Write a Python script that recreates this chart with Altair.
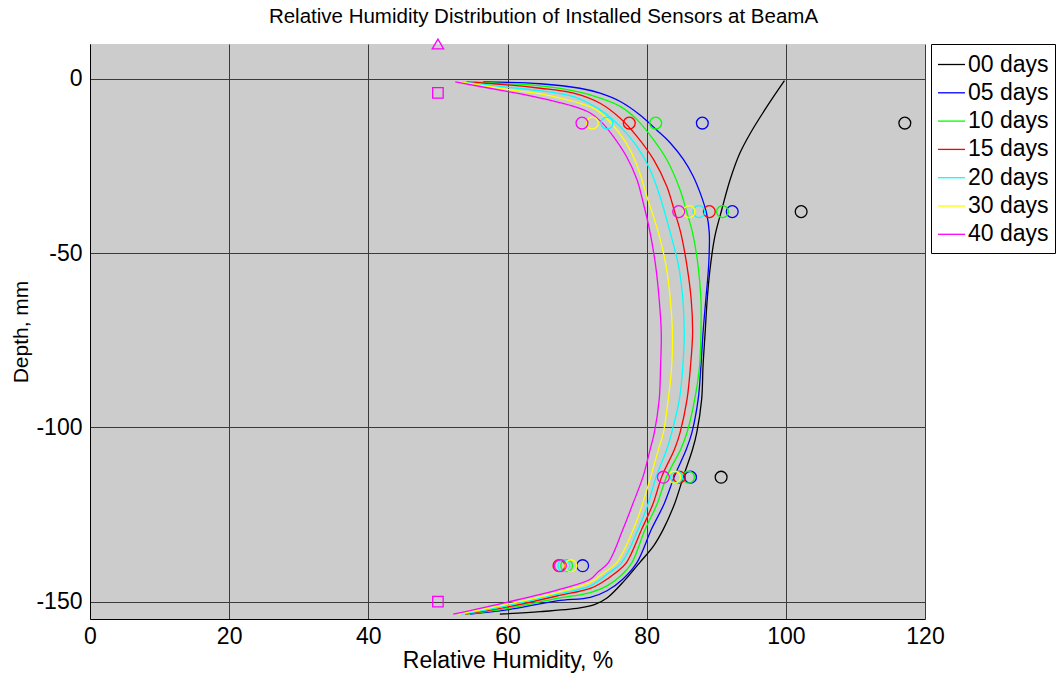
import altair as alt
import pandas as pd

# ---------------- data ----------------
series = ["00 days", "05 days", "10 days", "15 days", "20 days", "30 days", "40 days"]
colors = ["#000000", "#0000ff", "#00ff00", "#ff0000", "#00ffff", "#ffff00", "#ff00ff"]

rh_00 = [99.8, 97.3, 94.9, 93.4, 92.0, 90.8, 89.8, 89.1, 88.7, 88.4, 88.1, 87.9, 87.2, 86.6, 85.3, 84.0,
         82.4, 81.0, 79.0, 76.8, 74.3, 72.5, 70.4, 64.7, 58.9]
depth_00 = [-0.5, -7.9, -15.6, -21.3, -28.9, -37.5, -45.2, -54.7, -63.3, -72.9, -82.4, -92.0, -101.5, -106.3,
            -114.0, -122.0, -129.2, -134.0, -138.8, -144.0, -149.0, -150.9, -151.8, -152.9, -153.6]

rh_05 = [56.5, 64.7, 70.4, 73.3, 76.2, 79.0, 81.4, 83.4, 85.3, 86.7, 87.7, 88.6, 89.0, 88.9, 88.5, 88.1, 87.8,
         87.4, 86.5, 85.7, 84.0, 82.5, 80.7, 78.6, 76.6, 74.3, 71.9, 67.1, 59.9, 54.6]
depth_05 = [-0.9, -1.4, -2.7, -4.1, -6.5, -10.3, -14.6, -18.4, -23.2, -28.0, -32.8, -38.5, -44.2, -53.8, -63.3,
            -72.9, -82.4, -92.0, -101.5, -106.3, -114.0, -122.0, -129.2, -138.8, -143.5, -146.9, -148.8, -149.8,
            -152.4, -153.6]

rh_10 = [55.1, 59.9, 64.7, 70.4, 73.3, 76.2, 78.6, 81.0, 82.9, 84.8, 85.8, 86.6, 87.4, 87.8, 87.8, 87.6, 86.9,
         85.8, 84.9, 82.9, 81.5, 79.8, 77.9, 76.6, 74.3, 71.9, 67.1, 59.9, 54.1]
depth_10 = [-0.9, -1.4, -2.0, -3.8, -5.5, -7.9, -11.7, -17.5, -23.2, -31.8, -38.5, -44.2, -53.8, -63.3, -72.9,
            -82.4, -92.0, -101.5, -106.3, -114.0, -122.0, -129.2, -138.8, -142.0, -145.5, -147.4, -149.1, -152.0,
            -153.6]

rh_15 = [54.1, 59.9, 64.7, 69.5, 73.3, 76.2, 78.6, 81.0, 82.9, 84.0, 84.9, 85.8, 86.4, 86.6, 86.3, 85.8, 84.8,
         84.0, 82.2, 80.9, 79.3, 77.1, 75.5, 73.5, 71.9, 67.1, 59.9, 53.9]
depth_15 = [-0.9, -1.7, -2.7, -4.1, -7.0, -11.3, -16.5, -23.2, -30.9, -38.0, -44.2, -53.8, -63.3, -72.9, -82.4,
            -92.0, -101.5, -106.3, -114.0, -122.0, -129.2, -138.8, -141.8, -144.6, -146.2, -148.4, -151.6, -153.6]

rh_20 = [53.4, 59.9, 64.7, 69.5, 73.3, 76.2, 78.6, 80.5, 81.9, 83.4, 84.6, 85.2, 85.4, 85.2, 84.7, 83.6, 82.9,
         81.4, 80.2, 78.8, 76.4, 74.5, 71.9, 67.1, 59.9, 53.4]
depth_20 = [-0.9, -2.4, -3.4, -5.1, -8.9, -13.7, -19.4, -26.1, -33.7, -44.2, -53.8, -63.3, -72.9, -82.4, -92.0,
            -101.5, -106.3, -114.0, -122.0, -129.2, -138.8, -141.9, -145.5, -147.9, -151.2, -153.6]

rh_30 = [53.2, 59.9, 64.7, 69.5, 72.8, 75.7, 77.6, 79.0, 80.1, 81.7, 82.8, 83.4, 83.7, 83.6, 83.1, 82.4, 81.7,
         80.6, 79.4, 78.1, 75.7, 73.8, 71.9, 67.1, 59.9, 52.9]
depth_30 = [-0.9, -3.0, -4.3, -6.5, -8.9, -14.6, -20.3, -27.0, -34.2, -44.2, -53.8, -63.3, -72.9, -82.4, -92.0,
            -101.5, -106.3, -114.0, -122.0, -129.2, -138.8, -141.8, -144.5, -147.4, -150.8, -153.6]

rh_40 = [52.5, 59.9, 64.7, 69.5, 71.9, 73.4, 75.2, 77.1, 78.6, 79.4, 80.5, 81.3, 81.8, 82.1, 82.0, 81.8, 81.1,
         80.5, 79.5, 78.0, 76.6, 74.5, 73.0, 71.9, 67.1, 59.9, 52.2]
depth_40 = [-0.9, -3.6, -5.5, -7.9, -9.8, -12.2, -16.5, -22.3, -28.9, -34.7, -44.2, -53.8, -63.3, -72.9, -82.4,
            -92.0, -101.5, -106.3, -114.0, -122.0, -129.2, -138.8, -141.5, -143.6, -146.7, -150.2, -153.6]

# measured sensor readings (open circles)
sensor_depth = [-12.7, -38.1, -114.3, -139.7]
sensor_00 = [117.1, 102.2, 90.7, None]
sensor_05 = [88.0, 92.3, 86.3, 70.8]
sensor_10 = [81.3, 90.9, 86.0, 68.5]
sensor_15 = [77.5, 89.0, 84.7, 67.4]
sensor_20 = [74.3, 87.5, 84.3, 68.1]
sensor_30 = [72.2, 86.1, 84.0, 69.1]
sensor_40 = [70.7, 84.6, 82.4, 67.6]

# magenta reference markers
square_rh = [50, 50]
square_depth = [-4, -150]
triangle_rh = [50]
triangle_depth = [10]

x_ticks = [0, 20, 40, 60, 80, 100, 120]
y_ticks = [0, -50, -100, -150]

# ---------------- tables ----------------
curve_x = [rh_00, rh_05, rh_10, rh_15, rh_20, rh_30, rh_40]
curve_y = [depth_00, depth_05, depth_10, depth_15, depth_20, depth_30, depth_40]
rows = []
for s, xs, ys in zip(series, curve_x, curve_y):
    for i, (xv, yv) in enumerate(zip(xs, ys)):
        rows.append({"series": s, "rh": xv, "depth": yv, "idx": i})
lines_df = pd.DataFrame(rows)

sensor_lists = [sensor_00, sensor_05, sensor_10, sensor_15, sensor_20, sensor_30, sensor_40]
prow = []
for s, vals in zip(series, sensor_lists):
    for d, v in zip(sensor_depth, vals):
        if v is not None:
            prow.append({"series": s, "rh": v, "depth": d})
pts_df = pd.DataFrame(prow)

sq_df = pd.DataFrame({"rh": square_rh, "depth": square_depth})
tri_df = pd.DataFrame({"rh": triangle_rh, "depth": triangle_depth})

FONT = "Liberation Sans"

xscale = alt.Scale(domain=[0, 120], nice=False, zero=False)
yscale = alt.Scale(domain=[-155, 10], nice=False, zero=False)

x_axis = alt.Axis(values=x_ticks, grid=True, ticks=False, tickSize=0, labelPadding=24,
                  labelBaseline="alphabetic", labelFontSize=23, labelFont=FONT, labelColor="black",
                  labelExpr="toString(datum.value)",
                  title="Relative Humidity, %", titleFontSize=23, titleFont=FONT, titleFontWeight="normal",
                  titleColor="black", titleBaseline="alphabetic", titleY=48, domainColor="black",
                  labelFlush=False, labelOverlap=False)
y_axis = alt.Axis(values=y_ticks, grid=True, ticks=False, tickSize=0, labelPadding=8,
                  labelFontSize=23, labelFont=FONT, labelColor="black",
                  labelExpr="toString(datum.value)",
                  title="Depth, mm", titleFontSize=21, titleFont=FONT, titleFontWeight="normal",
                  titleColor="black", titleAngle=-90, titleX=-63, titleY=287.5, titleAlign="center",
                  titleBaseline="alphabetic", domainColor="black", labelFlush=False, labelOverlap=False)

X = alt.X("rh:Q", scale=xscale, axis=x_axis)
Y = alt.Y("depth:Q", scale=yscale, axis=y_axis)

color_scale = alt.Scale(domain=series, range=colors)

lines = alt.Chart(lines_df).mark_line(strokeWidth=1.3, interpolate="catmull-rom").encode(
    x=X, y=Y,
    color=alt.Color("series:N", scale=color_scale, legend=alt.Legend(
        title=None, orient="none", legendX=841, legendY=0, fillColor="white", strokeColor="black",
        padding=6, cornerRadius=0, symbolType="stroke", symbolSize=729, symbolStrokeWidth=1.3,
        labelFontSize=23, labelFont=FONT, labelColor="black", labelOffset=2, rowPadding=1.3,
        labelLimit=300)),
    order="idx:Q",
)

points = alt.Chart(pts_df).mark_point(shape="circle", filled=False, size=140, strokeWidth=1.3,
                                      opacity=1).encode(
    x=alt.X("rh:Q", scale=xscale), y=alt.Y("depth:Q", scale=yscale),
    color=alt.Color("series:N", scale=color_scale, legend=None),
)

squares = alt.Chart(sq_df).mark_point(shape="square", filled=False, size=110, strokeWidth=1.3,
                                      color="#ff00ff", opacity=1).encode(
    x=alt.X("rh:Q", scale=xscale), y=alt.Y("depth:Q", scale=yscale))

triangles = alt.Chart(tri_df).mark_point(shape="triangle-up", filled=False, size=130, strokeWidth=1.3,
                                         color="#ff00ff", opacity=1, clip=False).encode(
    x=alt.X("rh:Q", scale=xscale), y=alt.Y("depth:Q", scale=yscale))

chart = alt.layer(lines, points, squares, triangles).properties(
    width=835, height=575,
    background="white",
    title=alt.TitleParams("Relative Humidity Distribution of Installed Sensors at BeamA",
                          fontSize=20.5, font=FONT, fontWeight="normal", color="black",
                          anchor="middle", dx=36, dy=25, offset=18, baseline="alphabetic"),
    autosize=alt.AutoSizeParams(type="none"),
    padding={"left": 90, "top": 44, "right": 134, "bottom": 55},
).configure_view(
    fill="#cccccc", stroke=None
).configure_axis(
    gridColor="#3a3a3a", gridWidth=1, gridOpacity=1, domainWidth=1
)

chart.save("out.html", embed_options={"renderer": "svg", "actions": False})
